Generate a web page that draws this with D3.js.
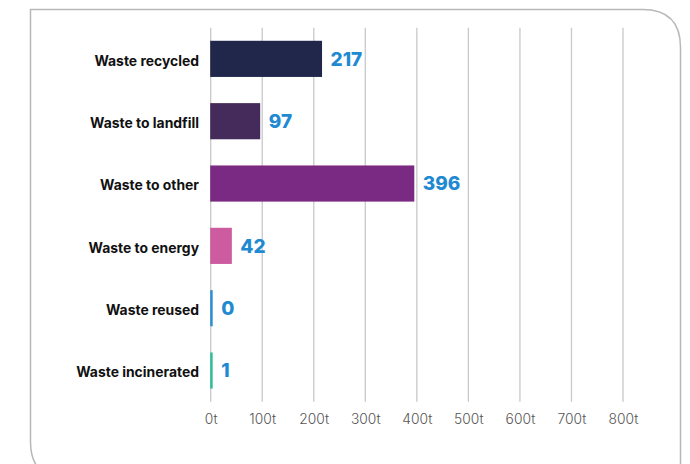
<!DOCTYPE html>
<html>
<head>
<meta charset="utf-8">
<script src="https://cdn.jsdelivr.net/npm/d3@7"></script>
<style>
  html, body { margin: 0; padding: 0; background: #ffffff; }
  svg { display: block; }
</style>
</head>
<body>
<svg id="chart" width="690" height="464"></svg>
<script>
const categories = ["Waste recycled", "Waste to landfill", "Waste to other", "Waste to energy", "Waste reused", "Waste incinerated"];
const values = [217, 97, 396, 42, 0, 1];
const barColors = ["#20274a", "#452b5b", "#7b2a83", "#cc5c9f", "#2e8dd3", "#2fbf98"];
const tickValues = [0, 100, 200, 300, 400, 500, 600, 700, 800];
const tickSuffix = "t";

const svg = d3.select("#chart");

// Frame with square top-left, rounded top-right and bottom-left
const fx0 = 30.5, fy0 = 9.5, fx1 = 680.5, fy1 = 478, rTR = 38, rBL = 36;
svg.append("path")
  .attr("d", `M${fx0},${fy0} L${fx1 - rTR},${fy0} Q${fx1},${fy0} ${fx1},${fy0 + rTR} L${fx1},${fy1} L${fx0 + rBL},${fy1} Q${fx0},${fy1} ${fx0},${fy1 - rBL} Z`)
  .attr("fill", "none")
  .attr("stroke", "#b8b8b8")
  .attr("stroke-width", 1.5);

const x = d3.scaleLinear().domain([0, 800]).range([210.7, 623]);
const y = d3.scaleBand().domain(categories).range([27.7, 401.7]).paddingInner(0.42).paddingOuter(0.21);

// Gridlines
svg.append("g")
  .selectAll("line")
  .data(tickValues)
  .join("line")
  .attr("x1", d => x(d)).attr("x2", d => x(d))
  .attr("y1", 27.7).attr("y2", 401.7)
  .attr("stroke", "#c8c8c8")
  .attr("stroke-width", 1.3);

// X axis labels
const xAxis = d3.axisBottom(x).tickValues(tickValues).tickSize(0).tickPadding(0).tickFormat(d => d + tickSuffix);
const gx = svg.append("g").attr("transform", "translate(0,410)").call(xAxis);
gx.select(".domain").remove();
gx.selectAll("text")
  .attr("dy", "1.0em")
  .attr("font-family", "Inter, 'Open Sans', sans-serif")
  .attr("font-size", 13.8)
  .attr("font-weight", 300)
  .attr("fill", "#555");

// Y axis labels
const yAxis = d3.axisLeft(y).tickSize(0).tickPadding(0);
const gy = svg.append("g").attr("transform", "translate(199,2.5)").call(yAxis);
gy.select(".domain").remove();
gy.selectAll("text")
  .attr("font-family", "Inter, 'Open Sans', sans-serif")
  .attr("font-size", 13.9)
  .attr("font-weight", 700)
  .attr("fill", "#111");

// Bars
const data = categories.map((c, i) => ({ c, v: values[i], color: barColors[i] }));
svg.append("g")
  .selectAll("rect")
  .data(data)
  .join("rect")
  .attr("x", x(0) - 0.5)
  .attr("y", d => y(d.c))
  .attr("width", d => Math.max(x(d.v) - x(0), 2.5))
  .attr("height", y.bandwidth())
  .attr("fill", d => d.color);

// Value labels
svg.append("g")
  .selectAll("text")
  .data(data)
  .join("text")
  .attr("x", d => Math.max(x(d.v), x(0) + 2.5) + 8)
  .attr("y", d => y(d.c) + y.bandwidth() / 2)
  .attr("dy", "0.35em")
  .attr("font-family", "Inter, 'Open Sans', sans-serif")
  .attr("font-size", 19)
  .attr("font-weight", 800)
  .attr("fill", "#1f8ad1")
  .text(d => d.v);
</script>
</body>
</html>
